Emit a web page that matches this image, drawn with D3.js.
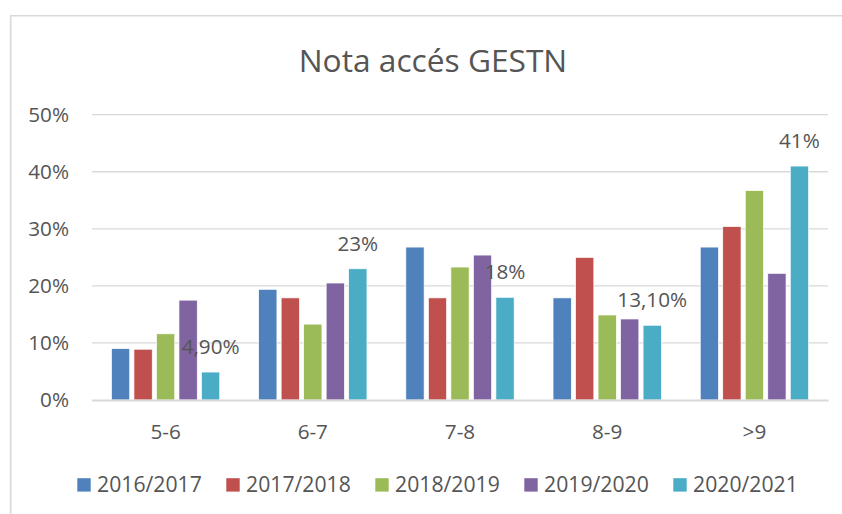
<!DOCTYPE html>
<html><head><meta charset="utf-8">
<script src="https://cdn.jsdelivr.net/npm/d3@7"></script>
<style>body{margin:0;background:#fff}svg{display:block}text{font-family:"Open Sans",sans-serif;fill:#555555}</style>
</head><body>
<svg id="c" width="842" height="514"></svg>
<script>
const categories = ["5-6","6-7","7-8","8-9",">9"];
const seriesNames = ["2016/2017","2017/2018","2018/2019","2019/2020","2020/2021"];
const colors = ["#4F81BD","#C0504D","#9BBB59","#8064A2","#4BACC6"];
const s2016 = [9.0, 19.4, 26.8, 17.9, 26.8];
const s2017 = [8.9, 17.9, 17.9, 25.0, 30.4];
const s2018 = [11.6, 13.3, 23.3, 14.9, 36.7];
const s2019 = [17.5, 20.5, 25.4, 14.2, 22.2];
const s2020 = [4.9, 23.0, 18.0, 13.1, 41.0];
const s2020Labels = ["4,90%","23%","18%","13,10%","41%"];
const yTicks = [0,10,20,30,40,50];
const title = "Nota accés GESTN";

const seriesVals = [s2016,s2017,s2018,s2019,s2020];
const svg = d3.select("#c");
const L=92, R=828, T=114.7, B=400;

svg.append("path").attr("d","M10.7,514 L10.7,15.7 L842,15.7").attr("fill","none").attr("stroke","#d9d9d9").attr("stroke-width",1.6);

const y = d3.scaleLinear().domain([0,50]).range([B,T]);
const x0 = d3.scaleBand().domain(categories).range([L,R]).paddingInner(0.264).paddingOuter(0.132);
const x1 = d3.scaleBand().domain(seriesNames).range([0,x0.bandwidth()]).paddingInner(0.187).paddingOuter(0);

svg.append("g").selectAll("line").data(yTicks.filter(t=>t>0)).join("line")
  .attr("x1",L).attr("x2",R).attr("y1",d=>y(d)).attr("y2",d=>y(d))
  .attr("stroke","#d9d9d9").attr("stroke-width",1.3);

svg.append("g").selectAll("text").data(yTicks).join("text")
  .attr("x",69).attr("y",d=>y(d)).attr("dy","0.36em").attr("text-anchor","end")
  .attr("font-size",20.7).text(d=>d+"%");

const g = svg.append("g");
seriesNames.forEach((s,si)=>{
  g.selectAll(".b"+si).data(categories).join("rect")
    .attr("x",c=>x0(c)+x1(s)).attr("width",x1.bandwidth())
    .attr("y",(c,i)=>y(seriesVals[si][i])).attr("height",(c,i)=>B-y(seriesVals[si][i]))
    .attr("fill",colors[si]).attr("stroke","#fff").attr("stroke-width",0.7);
});

svg.append("line").attr("x1",L).attr("x2",R+0.7).attr("y1",B+0.5).attr("y2",B+0.5).attr("stroke","#d9d9d9").attr("stroke-width",2.2);

svg.append("g").selectAll("text").data(categories).join("text")
  .attr("x",c=>x0(c)+x0.bandwidth()/2).attr("y",439.3).attr("text-anchor","middle")
  .attr("font-size",20.7).text(d=>d);

const last = seriesNames[4];
svg.append("g").selectAll("text").data(categories).join("text")
  .attr("x",c=>x0(c)+x1(last)+x1.bandwidth()/2).attr("y",(c,i)=>y(s2020[i])-18)
  .attr("text-anchor","middle").attr("font-size",20.7).text((c,i)=>s2020Labels[i]);

svg.append("text").attr("x",433).attr("y",71.7).attr("text-anchor","middle").attr("font-size",31.7).text(title);

const leg = svg.append("g");
seriesNames.forEach((s,i)=>{
  const lx = 77.3 + i*149;
  leg.append("rect").attr("x",lx).attr("y",478.2).attr("width",13.4).attr("height",13.4).attr("fill",colors[i]);
  leg.append("text").attr("x",lx+19.8).attr("y",491.7).attr("font-size",21.2).text(s);
});
</script>
</body></html>
